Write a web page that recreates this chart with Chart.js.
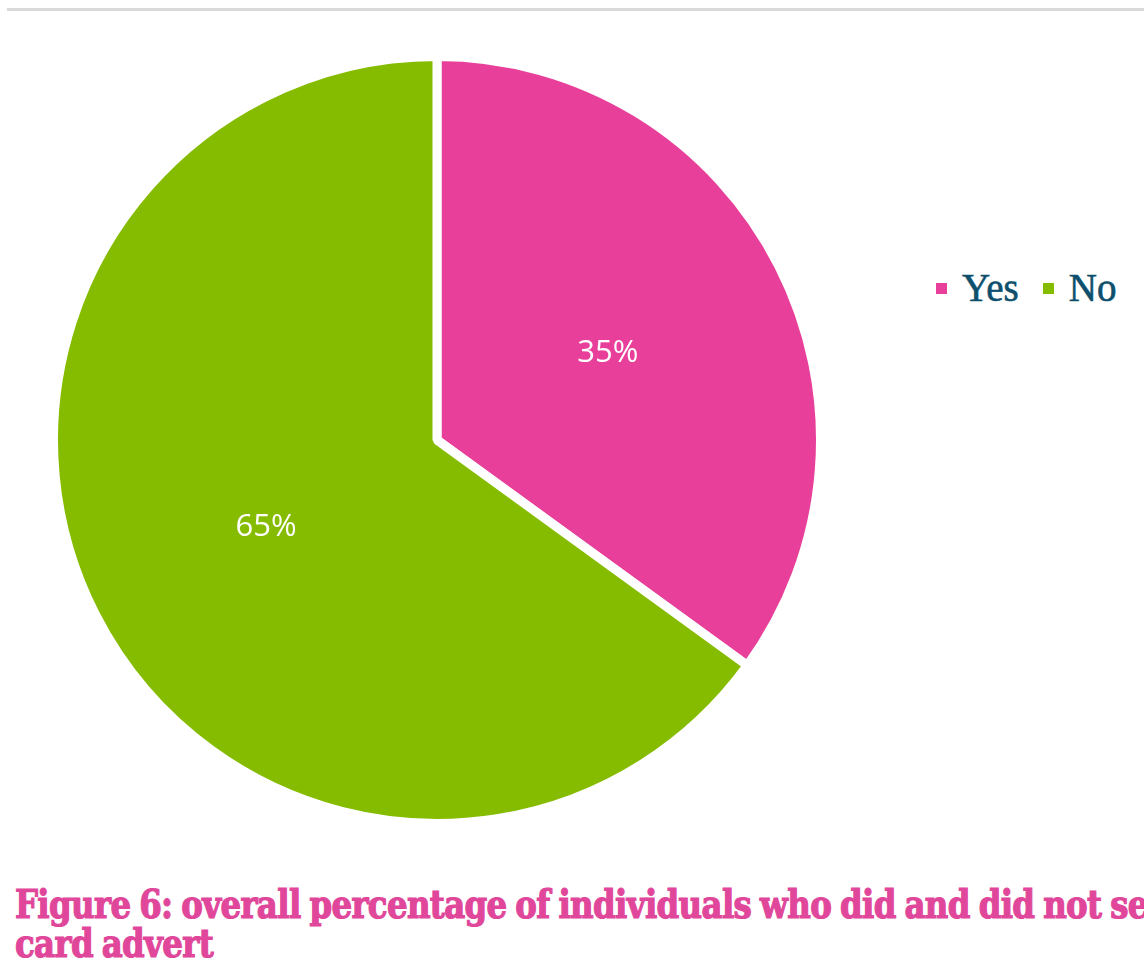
<!DOCTYPE html>
<html>
<head>
<meta charset="utf-8">
<script src="https://cdn.jsdelivr.net/npm/chart.js@4.4.1/dist/chart.umd.min.js"></script>
<style>
    html, body { margin: 0; padding: 0; background: #fff; }
    body { width: 1144px; height: 963px; position: relative; overflow: hidden; }
    .top-rule { position: absolute; left: 7px; right: 0; top: 8px; height: 3px; background: #d9d9d9; }
    .chart-box { position: absolute; left: 49px; top: 52px; width: 776px; height: 776px; }
    .legend { position: absolute; left: 936px; top: 265px; display: flex; align-items: center;
              font-family: 'Liberation Serif', serif; font-size: 39px; color: #0d4f6c; white-space: nowrap;
              -webkit-text-stroke: 0.6px #0d4f6c; }
    .legend .item { display: flex; align-items: center; margin-right: 24px; }
    .legend .swatch { width: 11px; height: 11px; margin-right: 15px; margin-top: 2px; }
    .caption { position: absolute; left: 15px; top: 884px; width: 1600px; white-space: nowrap;
               font-family: 'DejaVu Serif Condensed', 'DejaVu Serif', serif; font-weight: bold; font-size: 40px;
               line-height: 39px; color: #e0479b; letter-spacing: -0.7px; word-spacing: -2px;
               -webkit-text-stroke: 1.2px #e0479b; transform: scaleX(0.9); transform-origin: 0 0; }
</style>
</head>
<body>
<div class="top-rule"></div>
<div class="chart-box"><canvas id="pieChart"></canvas></div>
<div class="legend" id="legend"></div>
<div class="caption" id="caption">Figure 6: overall percentage of individuals who did and did not see the<br>card advert</div>

<script>
const categories = ['Yes', 'No'];
const shares = [35, 65];
const sliceColors = ['#e8409a', '#86bc00'];

// Simple plugin to write the percentage in the middle of each slice
const sliceLabels = {
    id: 'sliceLabels',
    afterDatasetsDraw(chart) {
        const ctx = chart.ctx;
        const meta = chart.getDatasetMeta(0);
        ctx.save();
        ctx.fillStyle = '#ffffff';
        ctx.font = "31px 'Open Sans', sans-serif";
        ctx.textAlign = 'center';
        ctx.textBaseline = 'middle';
        meta.data.forEach((arc, i) => {
            const pos = arc.tooltipPosition();
            ctx.fillText(shares[i] + '%', pos.x, pos.y);
        });
        ctx.restore();
    }
};

new Chart(document.getElementById('pieChart'), {
    type: 'pie',
    data: {
        labels: categories,
        datasets: [{
            data: shares,
            backgroundColor: sliceColors,
            borderColor: '#ffffff',
            borderWidth: 9
        }]
    },
    options: {
        responsive: true,
        maintainAspectRatio: false,
        animation: false,
        layout: { padding: 0 },
        plugins: {
            legend: { display: false },
            tooltip: { enabled: false }
        }
    },
    plugins: [sliceLabels]
});

// HTML legend built from the same arrays
document.getElementById('legend').innerHTML = categories.map((c, i) => `
    <div class="item"><span class="swatch" style="background:${sliceColors[i]}"></span>${c}</div>
`).join('');
</script>
</body>
</html>
